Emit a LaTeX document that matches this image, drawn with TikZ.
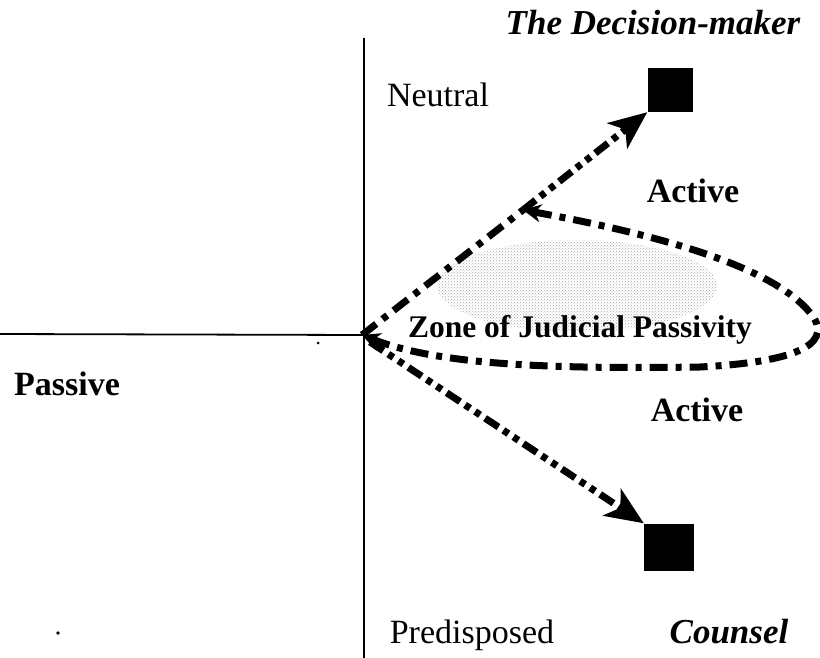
\documentclass[tikz,border=0pt]{standalone}
\usepackage{fontspec}
\setmainfont{Liberation Serif}
\usetikzlibrary{arrows.meta,patterns}
\begin{document}
\begin{tikzpicture}[x=1pt,y=-1pt,
  txt/.style={inner sep=0pt, anchor=base, font=\fontsize{34}{38}\selectfont},
  btxt/.style={txt, font=\fontsize{34}{38}\selectfont\bfseries},
  itxt/.style={txt, font=\fontsize{35}{38}\selectfont\bfseries\itshape},
  sq/.style={fill=black, draw=none, inner sep=0pt},
  axis/.style={line width=1.8pt},
  zoneline/.style={line width=7pt, dash pattern=on 18pt off 8pt on 6pt off 8pt},
  ddline/.style={line width=7pt, dash pattern=on 16pt off 6pt on 6pt off 6pt on 6pt off 6pt},
  bigtip/.style={-{Stealth[length=38pt,width=32pt,inset=10pt]}}
]
\useasboundingbox (0,0) rectangle (820,658);
% axes
\coordinate (vt) at (364,38);
\coordinate (vb) at (364,658);
\coordinate (hl) at (0,334);
\coordinate (O) at (362,335);
\coordinate (O2) at (370,342);
\coordinate (peak) at (523,210);
\draw[axis] (vt) -- (vb);
\draw[axis] (hl) -- (O);
% squares
\node[sq, minimum width=45pt, minimum height=44pt] (dm) at (670,90) {};
\node[sq, minimum width=50pt, minimum height=47pt] (cn) at (669,547) {};
% zone fill
\fill[pattern=crosshatch dots, pattern color=gray!70] (577,286) ellipse [x radius=140pt, y radius=46pt];
% zone loop
\draw[zoneline, {Stealth[length=18pt,width=18pt]}-{Stealth[length=18pt,width=18pt]}]
  (peak) .. controls (660,235) and (780,268) .. (814,318)
  .. controls (830,345) and (795,362) .. (700,367)
  .. controls (560,369) and (440,366) .. (O);
\draw[zoneline] (O) -- (peak);
% arrows
\draw[ddline, bigtip] (peak) -- (dm.south west);
\draw[ddline, bigtip] (O2) -- (cn.north west);
% stray dots
\fill (318,343) circle (1.5pt);
\fill (58,633) circle (1.8pt);
% labels
\node[itxt] (title) at (653,35) {The Decision-maker};
\node[txt] (neutral) at (438,107) {Neutral};
\node[btxt] (act1) at (693,203) {Active};
\node[btxt, font=\fontsize{31.5}{36}\selectfont\bfseries] (zone) at (580,337) {Zone of Judicial Passivity};
\node[btxt] (passive) at (67,395) {Passive};
\node[btxt] (act2) at (697,421) {Active};
\node[txt] (pre) at (472,643) {Predisposed};
\node[itxt] (counsel) at (729,643) {Counsel};
\end{tikzpicture}
\end{document}
